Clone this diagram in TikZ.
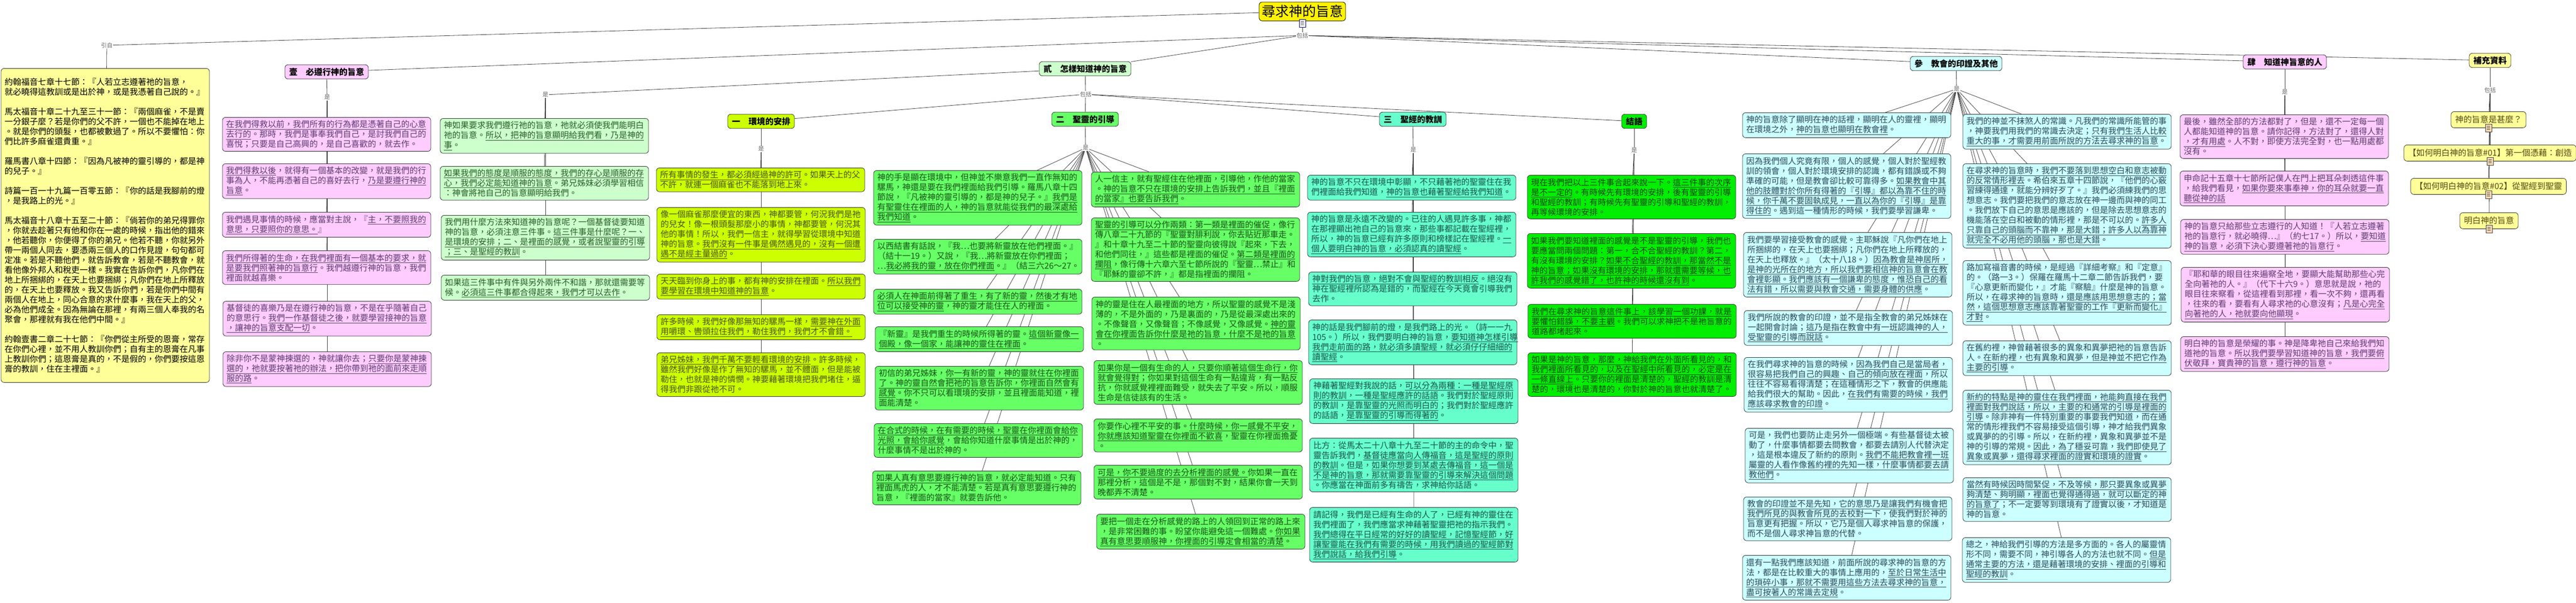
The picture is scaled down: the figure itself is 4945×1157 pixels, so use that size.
\documentclass[tikz,border=0pt]{standalone}
\usepackage{fontspec}
\setmainfont{Noto Sans CJK TC}
\usetikzlibrary{positioning,backgrounds}
\definecolor{pinkfill}{RGB}{255,204,255}
\definecolor{pinktxt}{RGB}{95,60,115}
\definecolor{mintfill}{RGB}{204,255,204}
\definecolor{minttxt}{RGB}{40,95,40}
\definecolor{limefill}{RGB}{204,255,0}
\definecolor{limetxt}{RGB}{75,85,0}
\definecolor{grnfill}{RGB}{102,255,102}
\definecolor{grntxt}{RGB}{25,85,25}
\definecolor{aquafill}{RGB}{102,255,204}
\definecolor{aquatxt}{RGB}{25,85,75}
\definecolor{brightfill}{RGB}{0,238,0}
\definecolor{brighttxt}{RGB}{15,70,15}
\definecolor{cyanfill}{RGB}{204,255,255}
\definecolor{cyantxt}{RGB}{45,75,95}
\definecolor{ylwfill}{RGB}{255,255,153}
\definecolor{ylwtxt}{RGB}{85,75,20}

\begin{document}
\begin{tikzpicture}[x=1pt, y=-1pt,
  box/.style={draw=black!80, line width=0.8pt, rounded corners=6pt, anchor=north,
    align=left, text width=386pt, inner xsep=7pt, inner ysep=6pt,
    font=\fontsize{16}{19}\selectfont},
  pinkbox/.style={box, fill=pinkfill, text=pinktxt},
  mintbox/.style={box, fill=mintfill, text=minttxt},
  limebox/.style={box, fill=limefill, text=limetxt},
  grnbox/.style={box, fill=grnfill, text=grntxt},
  aquabox/.style={box, fill=aquafill, text=aquatxt},
  brightbox/.style={box, fill=brightfill, text=brighttxt},
  cyanbox/.style={box, fill=cyanfill, text=cyantxt},
  hdr/.style={draw=black!80, line width=0.8pt, rounded corners=6pt, inner xsep=8pt,
    inner ysep=6pt, font=\fontsize{16}{19}\selectfont\bfseries},
  sbox/.style={draw=black!80, line width=0.8pt, rounded corners=6pt, anchor=north,
    fill=ylwfill, text=ylwtxt, inner xsep=8pt, inner ysep=8pt,
    font=\fontsize{16}{19}\selectfont},
  lbl/.style={fill=white, inner sep=1pt, text=black!60, font=\fontsize{11}{12}\selectfont},
  ico/.style={draw=black!75, line width=0.8pt, fill=white, minimum width=12pt,
    minimum height=15pt, inner sep=0pt,
    path picture={\draw[black!70] ([xshift=3pt,yshift=-4pt]path picture bounding box.north west) -- ++(6pt,0pt)
      ([xshift=3pt,yshift=-7pt]path picture bounding box.north west) -- ++(6pt,0pt)
      ([xshift=3pt,yshift=-10pt]path picture bounding box.north west) -- ++(6pt,0pt);}},
  link/.style={draw=black!75, line width=0.8pt}]

\useasboundingbox (0,0) rectangle (4945,1157);

% root and quotations
\node[draw=black, line width=0.8pt, fill=yellow, rounded corners=6pt, inner xsep=5pt, inner ysep=6pt,
  font=\fontsize{26}{30}\selectfont] (root) at (2500,22) {尋求神的旨意};
\node[ico, draw=blue!60!black] (ico0) at (2500,45) {};
\node[lbl] (bk0) at (2500,68) {包括};
\node[lbl] (yinzi) at (205,87) {引自};
\node[box, fill=ylwfill, text=black, minimum height=603pt] (scrip) at (202,131) {約翰福音七章十七節：『人若立志遵著祂的旨意，\\就必曉得這教訓或是出於神，或是我憑著自己說的。』\\[19pt]馬太福音十章二十九至三十一節：『兩個麻雀，不是賣\\一分銀子麼？若是你們的父不許，一個也不能掉在地上\\。就是你們的頭髮，也都被數過了。所以不要懼怕：你\\們比許多麻雀還貴重。』\\[19pt]羅馬書八章十四節：『因為凡被神的靈引導的，都是神\\的兒子。』\\[19pt]詩篇一百一十九篇一百零五節：『你的話是我腳前的燈\\，是我路上的光。』\\[19pt]馬太福音十八章十五至二十節：『倘若你的弟兄得罪你\\，你就去趁著只有他和你在一處的時候，指出他的錯來\\，他若聽你，你便得了你的弟兄。他若不聽，你就另外\\帶一兩個人同去，要憑兩三個人的口作見證，句句都可\\定准。若是不聽他們，就告訴教會，若是不聽教會，就\\看他像外邦人和稅吏一樣。我實在告訴你們，凡你們在\\地上所捆綁的，在天上也要捆綁；凡你們在地上所釋放\\的，在天上也要釋放。我又告訴你們，若是你們中間有\\兩個人在地上，同心合意的求什麼事，我在天上的父，\\必為他們成全。因為無論在那裡，有兩三個人奉我的名\\聚會，那裡就有我在他們中間。』\\[19pt]約翰壹書二章二十七節：『你們從主所受的恩膏，常存\\在你們心裡，並不用人教訓你們；自有主的恩膏在凡事\\上教訓你們；這恩膏是真的，不是假的，你們要按這恩\\膏的教訓，住在主裡面。』};

% section one
\node[hdr, fill=pinkfill] (h1) at (627,138) {壹　必遵行神的旨意};
\node[lbl] (shi1) at (628,187) {是};
\node[pinkbox] (p1) at (627,225) {\underline{在我們得救以前，我們所有的行為都是憑著自己的心意}\\\underline{去行的}。那時，我們是事奉我們自己，是討我們自己的\\喜悅；只要是自己高興的，是自己喜歡的，就去作。};
\node[pinkbox] (p2) at (627,314) {\underline{我們得救以後}，就得有一個基本的改變，就是我們的行\\事為人，不能再憑著自己的喜好去行，\underline{乃是要遵行神的}\\\underline{旨意}。};
\node[pinkbox] (p3) at (627,407) {我們遇見事情的時候，應當對主說，『\underline{主，不要照我的}\\\underline{意思，只要照你的意思。}』};
\node[pinkbox] (p4) at (627,481) {\underline{我們所得著的生命，在我們裡面有一個基本的要求，就}\\\underline{是要我們照著神的旨意行}。我們越遵行神的旨意，我們\\裡面就越喜樂。};
\node[pinkbox] (p5) at (628,578) {基督徒的喜樂乃是在遵行神的旨意，不是在乎隨著自己\\的意思行。\underline{我們一作基督徒之後，就要學習接神的旨意}\\\underline{，讓神的旨意支配一切}。};
\node[pinkbox] (p6) at (628,675) {除非你不是蒙神揀選的，神就讓你去；\underline{只要你是蒙神揀}\\\underline{選的，祂就要按著祂的辦法，把你帶到祂的面前來走順}\\\underline{服的路}。};

% section two
\node[hdr, fill=mintfill] (h2) at (2083,132) {貳　怎樣知道神的旨意};
\node[lbl] (shi2) at (1047,182) {是};
\node[lbl] (bk2) at (2084,181) {包括};
\node[mintbox] (m1) at (1045,227) {神如果要求我們遵行祂的旨意，祂就必須使我們能明白\\祂的旨意。\underline{所以，把神的旨意顯明給我們看，乃是神的}\\\underline{事}。};
\node[mintbox] (m2) at (1045,319) {\underline{如果我們的態度是順服的態度，我們的存心是順服的存}\\\underline{心，我們必定能知道神的旨意}。弟兄姊妹必須學習相信\\：神會將祂自己的旨意顯明給我們。};
\node[mintbox] (m3) at (1047,413) {我們用什麼方法來知道神的旨意呢？一個基督徒要知道\\神的旨意，必須注意三件事。\underline{這三件事是什麼呢？一、}\\\underline{是環境的安排；二、是裡面的感覺，或者說聖靈的引導}\\\underline{；三、是聖經的教訓}。};
\node[mintbox] (m4) at (1047,528) {如果這三件事中有件與另外兩件不和諧，那就還需要等\\候。\underline{必須這三件事都合得起來，我們才可以去作}。};

\node[hdr, fill=limefill] (h21) at (1461,233) {一　環境的安排};
\node[lbl] (shi21) at (1461,286) {是};
\node[limebox] (l1) at (1460,322) {\underline{所有事情的發生，都必須經過神的許可}。如果天上的父\\不許，就連一個麻雀也不能落到地上來。};
\node[limebox] (l2) at (1461,398) {像一個麻雀那麼便宜的東西，神都要管，何況我們是祂\\的兒女！像一根頭髮那麼小的事情，神都要管，何況其\\他的事情！所以，我們一信主，就得學習從環境中知道\\神的旨意。\underline{我們沒有一件事是偶然遇見的，沒有一個遭}\\\underline{遇不是經主量過的}。};
\node[limebox] (l3) at (1461,526) {天天臨到你身上的事，都有神的安排在裡面。\underline{所以我們}\\\underline{要學習在環境中知道神的旨意}。};
\node[limebox] (l4) at (1461,604) {許多時候，我們好像那無知的騾馬一樣，\underline{需要神在外面}\\\underline{用嚼環、轡頭拉住我們，勒住我們，我們才不會錯。}};
\node[limebox] (l5) at (1461,677) {\underline{弟兄姊妹，我們千萬不要輕看環境的安排}。許多時候，\\雖然我們好像是作了無知的騾馬，並不體面，但是能被\\勒住，也就是神的憐憫。神要藉著環境把我們堵住，逼\\得我們非跟從祂不可。};

\node[hdr, fill=grnfill] (h22) at (2083,229) {二　聖靈的引導};
\node[lbl] (shi22) at (2084,284) {是};
\node[grnbox] (g1) at (1877,327) {神的手是顯在環境中，但神並不樂意我們一直作無知的\\騾馬，神還是要在我們裡面給我們引導。羅馬八章十四\\節說，『凡被神的靈引導的，都是神的兒子。』\underline{我們是}\\\underline{有聖靈住在裡面的人，神的旨意就能從我們的最深處給}\\\underline{我們知道}。};
\node[grnbox] (g2) at (1877,459) {以西結書有話說，『我…也要將新靈放在他們裡面。』\\（結十一19。）又說，『我…將新靈放在你們裡面；\\…\underline{我必將我的靈，放在你們裡面}。』（結三六26～27。};
\node[grnbox] (g3) at (1877,555) {\underline{必須人在神面前得著了重生，有了新的靈，然後才有地}\\\underline{位可以接受神的靈}，神的靈才能住在人的裡面。};
\node[grnbox] (g4) at (1880,627) {『新靈』是我們重生的時候所得著的靈。\underline{這個新靈像一}\\\underline{個殿，像一個家，能讓神的靈住在裡面}。};
\node[grnbox] (g5) at (1880,703) {初信的弟兄姊妹，\underline{你一有新的靈，神的靈就住在你裡面}\\\underline{了。神的靈自然會把祂的旨意告訴你，你裡面自然會有}\\\underline{感覺}。你不只可以看環境的安排，並且裡面能知道，裡\\面能清楚。};
\node[grnbox] (g6) at (1878,813) {\underline{在合式的時候，在有需要的時候，聖靈在你裡面會給你}\\\underline{光照，會給你感覺}，會給你知道什麼事情是出於神的，\\什麼事情不是出於神的。};
\node[grnbox] (g7) at (1875,904) {\underline{如果人真有意思要遵行神的旨意，就必定能知道}。只有\\裡面馬虎的人，才不能清楚。若是真有意思要遵行神的\\旨意，『裡面的當家』就要告訴他。};
\node[grnbox] (r1) at (2295,330) {人一信主，就有聖經住在他裡面，引導他，作他的當家\\。\underline{神的旨意不只在環境的安排上告訴我們，並且『裡面}\\\underline{的當家』也要告訴我們}。};
\node[grnbox] (r2) at (2295,418) {\underline{聖靈的引導可以分作兩類：第一類是裡面的催促}，像行\\傳八章二十九節的『聖靈對腓利說，你去貼近那車走。\\』和十章十九至二十節的聖靈向彼得說『起來，下去，\\和他們同往，』這些都是裡面的催促。\underline{第二類是裡面的}\\\underline{攔阻}，像行傳十六章六至七節所說的『聖靈…禁止』和\\『耶穌的靈卻不許，』都是指裡面的攔阻。};
\node[grnbox] (r3) at (2296,570) {神的靈是住在人最裡面的地方，所以聖靈的感覺不是淺\\薄的，不是外面的，乃是裏面的，乃是從最深處出來的\\。不像聲音，又像聲音；不像感覺，又像感覺。\underline{神的靈}\\\underline{會在你裡面告訴你什麼是祂的旨意，什麼不是祂的旨意}\\。};
\node[grnbox] (r4) at (2300,692) {\underline{如果你是一個有生命的人，只要你順著這個生命行，你}\\\underline{就會覺得對}；你如果對這個生命有一點違背，有一點反\\抗，你就感覺裡裡面難受，就失去了平安。所以，順服\\生命是信徒該有的生活。};
\node[grnbox] (r5) at (2300,804) {你要作心裡不平安的事。\underline{什麼時候，你一感覺不平安，}\\\underline{你就應該知道聖靈在你裡面不歡喜}，聖靈在你裡面擔憂\\。};
\node[grnbox] (r6) at (2300,893) {\underline{可是，你不要過度的去分析裡面的感覺。}你如果一直在\\那裡分析，這個是不是，那個對不對，結果你會一天到\\晚都弄不清楚。};
\node[grnbox] (r7) at (2305,987) {要把一個走在分析感覺的路上的人領回到正常的路上來\\，是非常困難的事。盼望你能避免這一個難處。\underline{你如果}\\\underline{真有意思要順服神，你裡面的引導定會相當的清楚}。};

\node[hdr, fill=aquafill] (h23) at (2712,229) {三　聖經的教訓};
\node[lbl] (shi23) at (2713,288) {是};
\node[aquabox] (t1) at (2710,336) {神的旨意不只在環境中彰顯，不只藉著祂的聖靈住在我\\們裡面給我們知道，\underline{神的旨意也藉著聖經給我們知道}。};
\node[aquabox] (t2) at (2710,407) {神的旨意是永遠不改變的。已往的人遇見許多事，神都\\在那裡顯出祂自己的旨意來，那些事都記載在聖經裡，\\所以，神的旨意已經有許多原則和榜樣記在聖經裡。\underline{一}\\\underline{個人要明白神的旨意，必須認真的讀聖經}。};
\node[aquabox] (t3) at (2712,522) {\underline{神對我們的旨意，絕對不會與聖經的教訓相反}。絕沒有\\神在聖經裡所認為是錯的，而聖經在今天竟會引導我們\\去作。};
\node[aquabox] (t4) at (2712,614) {神的話是我們腳前的燈，是我們路上的光。（詩一一九\\105。）所以，我們要明白神的旨意，\underline{要知道神怎樣引導}\\\underline{我們走前面的路，就必須多讀聖經，就必須仔仔細細的}\\\underline{讀聖經}。};
\node[aquabox] (t5) at (2714,727) {神藉著聖經對我說的話，\underline{可以分為兩種：一種是聖經原}\\\underline{則的教訓，一種是聖經應許的話語}。我們對於聖經原則\\的教訓，\underline{是靠聖靈的光照而明白的}；我們對於聖經應許\\的話語，\underline{是靠聖靈的引導而得著的}。};
\node[aquabox] (t6) at (2714,841) {比方：從馬太二十八章十九至二十節的主的命令中，聖\\靈告訴我們，\underline{基督徒應當向人傳福音，這是聖經的原則}\\\underline{的教訓}。但是，\underline{如果你想要到某處去傳福音，這一個是}\\\underline{不是神的旨意，那就需要靠聖靈的引導來解決這個問題}\\。你應當在神面前多有禱告，求神給你話語。};
\node[aquabox] (t7) at (2714,974) {請記得，我們是已經有生命的人了，已經有神的靈住在\\我們裡面了，我們應當求神藉著聖靈把祂的指示我們。\\\underline{我們總得在平日經常的好好的讀聖經，記憶聖經節，好}\\\underline{讓聖靈能在我們有需要的時候，用我們讀過的聖經節對}\\\underline{我們說話，給我們引導}。};

\node[hdr, fill=brightfill] (h24) at (3137,233) {結語};
\node[lbl] (shi24) at (3137,289) {是};
\node[brightbox] (e1) at (3132,336) {現在我們把以上三件事合起來說一下。\underline{這三件事的次序}\\\underline{是不一定的}。有時候先有環境的安排，後有聖靈的引導\\和聖經的教訓；有時候先有聖靈的引導和聖經的教訓，\\再等候環境的安排。};
\node[brightbox] (e2) at (3132,448) {如果我們要知道裡面的感覺是不是聖靈的引導，我們也\\要應當問兩個問題：第一，合不合聖經的教訓？第二，\\有沒有環境的安排？\underline{如果不合聖經的教訓，那當然不是}\\\underline{神的旨意；如果沒有環境的安排，那就還需要等候，也}\\\underline{許我們的感覺錯了，也許神的時候還沒有到}。};
\node[brightbox] (e3) at (3133,584) {\underline{我們在尋求神的旨意這件事上，該學習一個功課，就是}\\\underline{要懼怕錯誤，不要主觀}。我們可以求神把不是祂旨意的\\道路都堵起來。};
\node[brightbox] (e4) at (3133,677) {\underline{如果是神的旨意，那麼，神給我們在外面所看見的，和}\\\underline{我們裡面所看見的，以及在聖經中所看見的，必定是在}\\\underline{一條直線上}。只要你的裡面是清楚的，聖經的教訓是清\\楚的，環境也是清楚的，你對於神的旨意也就清楚了。};

% section three
\node[hdr, fill=cyanfill] (h3) at (3755,122) {參　教會的印證及其他};
\node[lbl] (shi3) at (3756,171) {是};
\node[cyanbox] (c1) at (3545,216) {神的旨意除了顯明在神的話裡，顯明在人的靈裡，顯明\\在環境之外，\underline{神的旨意也顯明在教會裡}。};
\node[cyanbox] (c2) at (3545,295) {因為我們個人究竟有限，個人的感覺，個人對於聖經教\\訓的領會，個人對於環境安排的認識，都有錯誤或不夠\\準確的可能，但是教會卻比較可靠得多。\underline{如果教會中其}\\\underline{他的肢體對於你所有得著的『引導』都以為靠不住的時}\\\underline{候，你千萬不要固執成見，一直以為你的『引導』是靠}\\\underline{得住的}。遇到這一種情形的時候，我們要學習謙卑。};
\node[cyanbox] (c3) at (3547,446) {我們要學習接受教會的感覺。主耶穌說『凡你們在地上\\所捆綁的，在天上也要捆綁；凡你們在地上所釋放的，\\在天上也釋放。』（太十八18。）\underline{因為教會是神居所，}\\\underline{是神的光所在的地方，所以我們要相信神的旨意會在教}\\\underline{會裡彰顯。我們應該有一個謙卑的態度，惟恐自己的看}\\\underline{法有錯，所以需要與教會交通，需要身體的供應}。};
\node[cyanbox] (c4) at (3548,596) {我們所說的教會的印證，並不是指全教會的弟兄姊妹在\\一起開會討論；\underline{這乃是指在教會中有一班認識神的人，}\\\underline{受聖靈的引導而說話}。};
\node[cyanbox] (c5) at (3548,686) {在我們尋求神的旨意的時候，\underline{因為我們自己是當局者，}\\\underline{很容易把我們自己的興趣、自己的傾向放在裡面}，所以\\往往不容易看得清楚；在這種情形之下，教會的供應能\\給我們很大的幫助。因此，\underline{在我們有需要的時候，我們}\\\underline{應該尋求教會的印證}。};
\node[cyanbox] (c6) at (3550,822) {可是，我們也要防止走另外一個極端。有些基督徒太被\\動了，什麼事情都要去問教會，都要去請別人代替決定\\，這是根本違反了新約的原則。\underline{我們不能把教會裡一班}\\\underline{屬靈的人看作像舊約裡的先知一樣，什麼事情都要去請}\\\underline{教他們}。};
\node[cyanbox] (c7) at (3547,954) {\underline{教會的印證並不是先知，它的意思乃是讓我們有機會把}\\\underline{我們所見的與教會所見的去校對一下}，使我們對於神的\\旨意更有把握。所以，它乃是個人尋求神旨意的保護，\\而不是個人尋求神旨意的代替。};
\node[cyanbox] (c8) at (3545,1066) {還有一點我們應該知道，前面所說的尋求神的旨意的方\\法，都是在比較重大的事情上應用的，\underline{至於日常生活中}\\\underline{的瑣碎小事，那就不需要用這些方法去尋求神的旨意，}\\\underline{盡可按著人的常識去定規}。};
\node[cyanbox] (d1) at (3968,219) {我們的神並不抹煞人的常識。凡我們的常識所能管的事\\，神要我們用我們的常識去決定；\underline{只有我們生活人比較}\\\underline{重大的事，才需要用前面所說的方法去尋求神的旨意}。};
\node[cyanbox] (d2) at (3968,314) {\underline{在尋求神的旨意時，我們不要落到思想空白和意志被動}\\\underline{的反常情形裡去}。希伯來五章十四節說，『他們的心竅\\習練得通達，就能分辨好歹了。』我們必須練我們的思\\想意志。我們要把我們的意志放在神一邊而與神的同工\\。我們放下自己的意思是應該的，但是除去思想意志的\\機能落在空白和被動的情形裡，那是不可以的。\underline{許多人}\\\underline{只靠自己的頭腦而不靠神，那是大錯；許多人以為靠神}\\\underline{就完全不必用他的頭腦，那也是大錯}。};
\node[cyanbox] (d3) at (3968,500) {路加寫福音書的時候，是經過『詳細考察』和『定意』\\的。（路一3。）保羅在羅馬十二章二節告訴我們，要\\『心意更新而變化，』才能『察驗』什麼是神的旨意。\\所以，\underline{在尋求神的旨意時，還是應該用思想意志的；當}\\\underline{然，這個思想意志應該靠著聖靈的工作『更新而變化』}\\\underline{才對}。};
\node[cyanbox] (d4) at (3968,654) {在舊約裡，神曾藉著很多的異象和異夢把祂的旨意告訴\\人。\underline{在新約裡，也有異象和異夢，但是神並不把它作為}\\\underline{主要的引導}。};
\node[cyanbox] (d5) at (3968,749) {\underline{新約的特點是神的靈住在我們裡面，祂能夠直接在我們}\\\underline{裡面對我們說話，所以，主要的和通常的引導是裡面的}\\\underline{引導}。除非神有一件特別重要的事要我們知道，而在通\\常的情形裡我們不容易接受這個引導，神才給我們異象\\或異夢的的引導。所以，在新約裡，異象和異夢並不是\\神的引導的常規。\underline{因此，為了穩妥可靠，我們即使見了}\\\underline{異象或異夢，還得尋求裡面的證實和環境的證實}。};
\node[cyanbox] (d6) at (3968,917) {\underline{當然有時候因時間緊促，不及等候，那只要異象或異夢}\\\underline{夠清楚、夠明顯，裡面也覺得通得過，就可以斷定的神}\\\underline{的旨意了}；不一定要等到環境有了證實以後，才知道是\\神的旨意。};
\node[cyanbox] (d7) at (3967,1032) {總之，神給我們引導的方法是多方面的。各人的屬靈情\\形不同，需要不同，神引導各人的方法也就不同。\underline{但是}\\\underline{通常主要的方法，還是藉著環境的安排、裡面的引導和}\\\underline{聖經的教訓}。};

% section four
\node[hdr, fill=pinkfill] (h4) at (4386,119) {肆　知道神旨意的人};
\node[lbl] (shi4) at (4386,177) {是};
\node[pinkbox] (f1) at (4385,220) {最後，雖然全部的方法都對了，但是，還不一定每一個\\人都能知道神的旨意。\underline{請你記得，方法對了，還得人對}\\\underline{，才有用處}。人不對，即使方法完全對，也一點用處都\\沒有。};
\node[pinkbox] (f2) at (4385,328) {申命記十五章十七節所記僕人在門上把耳朵刺透這件事\\，給我們看見，\underline{如果你要來事奉神，你的耳朵就要一直}\\\underline{聽從神的話}};
\node[pinkbox] (f3) at (4386,421) {神的旨意只給那些立志遵行的人知道！『人若立志遵著\\祂的旨意行，就必曉得…』（約七17。）所以，\underline{要知道}\\\underline{神的旨意，必須下決心要遵著祂的旨意行}。};
\node[pinkbox] (f4) at (4387,513) {『耶和華的眼目往來遍察全地，要顯大能幫助那些心完\\全向著祂的人。』（代下十六9。）意思就是說，祂的\\眼目往來察看，從這裡看到那裡，看一次不夠，還再看\\，往來的看，要看有人尋求祂的心意沒有；\underline{凡是心完全}\\\underline{向著祂的人，祂就要向他顯現}。};
\node[pinkbox] (f5) at (4386,646) {明白神的旨意是榮耀的事。神是降卑祂自己來給我們知\\道祂的旨意。\underline{所以我們要學習知道神的旨意，我們要俯}\\\underline{伏敬拜，寶貴神的旨意，遵行神的旨意}。};

% further reading
\node[hdr, fill=ylwfill] (h5) at (4780,116) {補充資料};
\node[lbl] (bk5) at (4780,173) {包括};
\node[sbox] (s1) at (4777,214) {神的旨意是甚麼？};
\node[sbox] (s2) at (4780,278) {【如何明白神的旨意\#01】第一個憑藉：創造};
\node[sbox] (s3) at (4777,342) {【如何明白神的旨意\#02】從聖經到聖靈};
\node[sbox] (s4) at (4778,408) {明白神的旨意};
\node[ico, fill=orange!30] (i1) at (s1.south) {};
\node[ico, fill=orange!30] (i2) at (s2.south) {};
\node[ico, fill=orange!30] (i3) at (s3.south) {};
\node[ico, fill=orange!30] (i4) at (s4.south) {};

\begin{scope}[on background layer]
\fill[white] (0,0) rectangle (4945,1157);
\draw[link] (root) to (yinzi);
\draw[link] (yinzi) to (scrip);
\draw[link] (root) to (ico0);
\draw[link] (ico0) to (bk0);
\draw[link] (bk0) to (h1);
\draw[link] (bk0) to (h2);
\draw[link] (bk0) to (h3);
\draw[link] (bk0) to (h4);
\draw[link] (bk0) to (h5);
\draw[link] (h1) to (shi1);
\draw[link] (shi1) to (p1);
\draw[link] (shi1) to (p2);
\draw[link] (shi1) to (p3);
\draw[link] (shi1) to (p4);
\draw[link] (shi1) to (p5);
\draw[link] (shi1) to (p6);
\draw[link] (h2) to (shi2);
\draw[link] (shi2) to (m1);
\draw[link] (shi2) to (m2);
\draw[link] (shi2) to (m3);
\draw[link] (shi2) to (m4);
\draw[link] (h2) to (bk2);
\draw[link] (bk2) to (h21);
\draw[link] (bk2) to (h22);
\draw[link] (bk2) to (h23);
\draw[link] (bk2) to (h24);
\draw[link] (h21) to (shi21);
\draw[link] (shi21) to (l1);
\draw[link] (shi21) to (l2);
\draw[link] (shi21) to (l3);
\draw[link] (shi21) to (l4);
\draw[link] (shi21) to (l5);
\draw[link] (h22) to (shi22);
\draw[link] (shi22) to (g1);
\draw[link] (shi22) to (g2);
\draw[link] (shi22) to (g3);
\draw[link] (shi22) to (g4);
\draw[link] (shi22) to (g5);
\draw[link] (shi22) to (g6);
\draw[link] (shi22) to (g7);
\draw[link] (shi22) to (r1);
\draw[link] (shi22) to (r2);
\draw[link] (shi22) to (r3);
\draw[link] (shi22) to (r4);
\draw[link] (shi22) to (r5);
\draw[link] (shi22) to (r6);
\draw[link] (shi22) to (r7);
\draw[link] (h23) to (shi23);
\draw[link] (shi23) to (t1);
\draw[link] (shi23) to (t2);
\draw[link] (shi23) to (t3);
\draw[link] (shi23) to (t4);
\draw[link] (shi23) to (t5);
\draw[link] (shi23) to (t6);
\draw[link] (shi23) to (t7);
\draw[link] (h24) to (shi24);
\draw[link] (shi24) to (e1);
\draw[link] (shi24) to (e2);
\draw[link] (shi24) to (e3);
\draw[link] (shi24) to (e4);
\draw[link] (h3) to (shi3);
\draw[link] (shi3) to (c1);
\draw[link] (shi3) to (c2);
\draw[link] (shi3) to (c3);
\draw[link] (shi3) to (c4);
\draw[link] (shi3) to (c5);
\draw[link] (shi3) to (c6);
\draw[link] (shi3) to (c7);
\draw[link] (shi3) to (c8);
\draw[link] (shi3) to (d1);
\draw[link] (shi3) to (d2);
\draw[link] (shi3) to (d3);
\draw[link] (shi3) to (d4);
\draw[link] (shi3) to (d5);
\draw[link] (shi3) to (d6);
\draw[link] (shi3) to (d7);
\draw[link] (h4) to (shi4);
\draw[link] (shi4) to (f1);
\draw[link] (shi4) to (f2);
\draw[link] (shi4) to (f3);
\draw[link] (shi4) to (f4);
\draw[link] (shi4) to (f5);
\draw[link] (h5) to (bk5);
\draw[link] (bk5) to (s1);
\draw[link] (bk5) to (s2);
\draw[link] (bk5) to (s3);
\draw[link] (bk5) to (s4);
\end{scope}
\end{tikzpicture}
\end{document}
